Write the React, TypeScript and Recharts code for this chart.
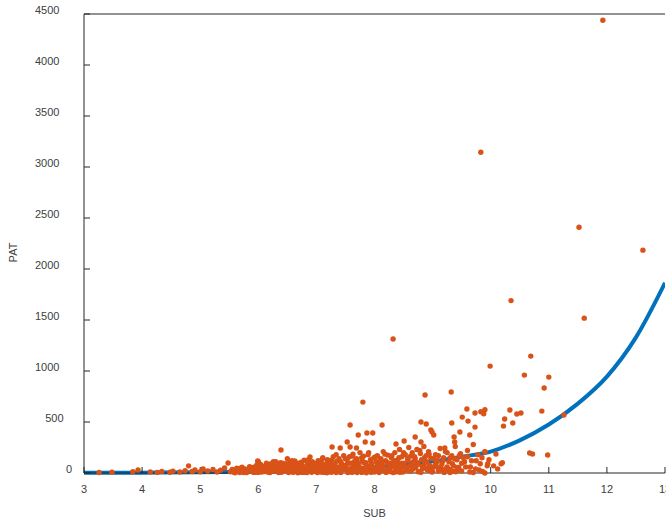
import { ComposedChart, Scatter, Line, XAxis, YAxis } from 'recharts';

const X_TICKS = [3, 4, 5, 6, 7, 8, 9, 10, 11, 12, 13];
const Y_TICKS = [0, 500, 1000, 1500, 2000, 2500, 3000, 3500, 4000, 4500];

// fitted curve
const FIT_X = [3, 4, 5, 6, 7, 8, 9, 9.5, 10, 10.5, 11, 11.5, 12, 12.5, 13];
const FIT_Y = [2, 3, 7, 13, 27, 57, 115, 160, 210, 320, 475, 680, 945, 1330, 1865];

type Pt = [number, number];

// sparse points on the left
const LOW_TAIL: Pt[] = [
  [3.26, 5], [3.48, 8], [3.84, 12], [3.93, 30], [4.14, 10], [4.26, 6], [4.34, 14], [4.48, 8],
  [4.53, 18], [4.65, 10], [4.74, 22], [4.8, 70], [4.86, 15], [4.91, 30], [5.0, 12], [5.05, 40],
  [5.13, 20], [5.22, 35], [5.29, 10], [5.35, 28], [5.42, 50], [5.48, 98], [5.57, 30], [5.68, 45],
  [5.8, 25],
];

// bottom of the dense band
const BAND_BASE: Pt[] = [
  [5.6, 3], [5.7, 12], [5.8, 4], [5.9, 18], [6.0, 6], [6.1, 22], [6.2, 5], [6.3, 28], [6.4, 8],
  [6.5, 32], [6.6, 10], [6.7, 38], [6.8, 6], [6.9, 42], [7.0, 12], [7.1, 45], [7.2, 8], [7.3, 50],
  [7.4, 14], [7.5, 48], [7.6, 10], [7.7, 55], [7.8, 16], [7.9, 60], [8.0, 9], [8.1, 52], [8.2, 18],
  [8.3, 65], [8.4, 12], [8.5, 58], [8.6, 20], [8.7, 62], [8.8, 8], [8.9, 45], [9.0, 15], [9.1, 50],
  [9.2, 6], [9.3, 35], [9.4, 12],
  [5.65, 20], [5.75, 5], [5.85, 30], [5.95, 8], [6.05, 40], [6.15, 12], [6.25, 48], [6.35, 5],
  [6.45, 55], [6.55, 15], [6.65, 62], [6.75, 8], [6.85, 68], [6.95, 18], [7.05, 72], [7.15, 6],
  [7.25, 78], [7.35, 20], [7.45, 82], [7.55, 10], [7.65, 88], [7.75, 25], [7.85, 92], [7.95, 12],
  [8.05, 85], [8.15, 28], [8.25, 95], [8.35, 10], [8.45, 90], [8.55, 30], [8.65, 80], [8.75, 12],
  [8.85, 70], [8.95, 25], [9.05, 85], [9.15, 35], [9.25, 60], [9.35, 18], [9.45, 55],
];

// middle layer of the band
const BAND_MID: Pt[] = [
  [5.9, 55], [5.94, 20], [5.98, 80], [6.02, 35], [6.06, 60], [6.1, 15], [6.14, 70], [6.18, 45],
  [6.22, 90], [6.26, 30], [6.3, 110], [6.34, 20], [6.38, 65], [6.42, 95], [6.46, 40], [6.5, 75],
  [6.54, 25], [6.58, 120], [6.62, 55], [6.66, 85], [6.7, 20], [6.74, 105], [6.78, 60], [6.82, 35],
  [6.86, 130], [6.9, 90], [6.94, 45], [6.98, 70], [7.02, 100], [7.06, 25], [7.1, 135], [7.14, 60],
  [7.18, 95], [7.22, 40], [7.26, 125], [7.3, 75], [7.34, 180], [7.38, 30], [7.42, 110], [7.46, 65],
  [7.5, 140], [7.54, 95], [7.58, 40], [7.62, 165], [7.66, 75], [7.7, 120], [7.74, 30], [7.78, 150],
  [7.82, 100], [7.86, 60], [7.9, 200], [7.94, 110], [7.98, 45], [8.02, 160], [8.06, 90], [8.1, 130],
  [8.14, 55], [8.18, 185], [8.22, 100], [8.26, 40], [8.3, 170], [8.34, 120], [8.38, 75], [8.42, 150],
  [8.46, 95], [8.5, 200], [8.54, 60], [8.58, 120], [8.62, 165], [8.66, 40], [8.7, 140], [8.74, 100],
  [8.78, 220], [8.82, 65], [8.86, 150], [8.9, 110], [8.94, 185], [8.98, 50], [9.02, 140], [9.06, 95],
  [9.1, 170], [9.14, 60], [9.18, 120], [9.22, 210], [9.26, 30], [9.3, 150], [9.34, 90], [9.38, 140],
  [9.42, 55], [9.46, 170], [9.5, 20], [9.55, 110], [9.6, 160], [9.65, 60], [9.7, 5], [9.75, 120],
  [9.8, 30], [9.85, 150], [9.9, 0], [9.95, 90],
];

// main band
const BAND: Pt[] = [
  [5.52, 12], [5.55, 35], [5.58, 8], [5.6, 22], [5.63, 48], [5.66, 15], [5.68, 5], [5.7, 30],
  [5.72, 58], [5.75, 18], [5.77, 40], [5.8, 10], [5.82, 28], [5.85, 62], [5.87, 20], [5.9, 45],
  [5.92, 6], [5.94, 33], [5.96, 70], [5.98, 15],
  [6.0, 25], [6.02, 50], [6.04, 85], [6.06, 10], [6.08, 38], [6.1, 65], [6.12, 20], [6.14, 95],
  [6.16, 45], [6.18, 8], [6.2, 72], [6.22, 30], [6.24, 55], [6.26, 110], [6.28, 18], [6.3, 80],
  [6.32, 40], [6.34, 62], [6.36, 12], [6.38, 100], [6.4, 35], [6.42, 75], [6.44, 52], [6.46, 22],
  [6.48, 90], [6.5, 140],
  [6.51, 28], [6.53, 60], [6.55, 105], [6.57, 15], [6.59, 80], [6.61, 42], [6.63, 118], [6.65, 25],
  [6.67, 70], [6.69, 95], [6.71, 10], [6.73, 50], [6.75, 85], [6.77, 35], [6.79, 125], [6.81, 60],
  [6.83, 20], [6.85, 100], [6.87, 45], [6.89, 75], [6.91, 15], [6.93, 110], [6.95, 55], [6.97, 30],
  [6.99, 90], [6.52, 5], [6.6, 8], [6.68, 3], [6.76, 6], [6.84, 4], [6.92, 7],
  [7.01, 40], [7.03, 120], [7.05, 65], [7.07, 12], [7.09, 95], [7.11, 150], [7.13, 30], [7.15, 80],
  [7.17, 55], [7.19, 130], [7.21, 18], [7.23, 100], [7.25, 70], [7.27, 40], [7.29, 160], [7.31, 85],
  [7.33, 25], [7.35, 115], [7.37, 60], [7.39, 140], [7.41, 10], [7.43, 90], [7.45, 50], [7.47, 170],
  [7.49, 35], [7.02, 5], [7.1, 8], [7.18, 3], [7.26, 7], [7.34, 4], [7.42, 6],
  [7.51, 75], [7.53, 130], [7.55, 20], [7.57, 160], [7.59, 95], [7.61, 45], [7.63, 185], [7.65, 110],
  [7.67, 60], [7.69, 140], [7.71, 25], [7.73, 90], [7.75, 200], [7.77, 50], [7.79, 120], [7.81, 165],
  [7.83, 35], [7.85, 100], [7.87, 70], [7.89, 180], [7.91, 15], [7.93, 130], [7.95, 85], [7.97, 55],
  [7.99, 150], [7.54, 5], [7.62, 8], [7.7, 4], [7.78, 6], [7.86, 3], [7.94, 7],
  [8.01, 40], [8.03, 110], [8.05, 170], [8.07, 65], [8.09, 20], [8.11, 140], [8.13, 90], [8.15, 210],
  [8.17, 50], [8.19, 120], [8.21, 30], [8.23, 175], [8.25, 80], [8.27, 15], [8.29, 150], [8.31, 100],
  [8.33, 60], [8.35, 200], [8.37, 35], [8.39, 125], [8.41, 85], [8.43, 230], [8.45, 55], [8.47, 160],
  [8.49, 10], [8.08, 5], [8.2, 6], [8.32, 4], [8.44, 8],
  [8.51, 95], [8.53, 180], [8.55, 40], [8.57, 140], [8.59, 250], [8.61, 70], [8.63, 20], [8.65, 200],
  [8.67, 110], [8.69, 160], [8.71, 55], [8.73, 230], [8.75, 85], [8.77, 15], [8.79, 190], [8.81, 130],
  [8.83, 45], [8.85, 260], [8.87, 100], [8.89, 170], [8.91, 30], [8.93, 210], [8.95, 75], [8.97, 145],
  [8.99, 10],
  [9.02, 60], [9.05, 180], [9.08, 120], [9.1, 20], [9.13, 240], [9.16, 90], [9.19, 150], [9.22, 40],
  [9.25, 200], [9.28, 110], [9.3, 5], [9.33, 170], [9.36, 70], [9.39, 260], [9.42, 130], [9.45, 30],
  [9.48, 190], [9.5, 95],
  [9.53, 150], [9.57, 60], [9.6, 220], [9.64, 10], [9.67, 120], [9.7, 280], [9.74, 40], [9.78, 180],
  [9.82, 90], [9.86, 15], [9.9, 210], [9.94, 70], [9.97, 130],
];

// points well above the band
const SPREAD: Pt[] = [
  [11.93, 4438], [9.83, 3145], [11.52, 2410], [12.62, 2185], [10.35, 1690], [11.61, 1518],
  [8.32, 1313], [10.69, 1146], [9.99, 1048], [10.58, 960], [11.0, 940], [10.92, 833], [9.32, 794],
  [8.87, 764], [7.8, 695], [10.88, 607], [10.52, 588], [10.33, 617], [9.59, 627], [9.73, 588],
  [9.83, 600], [9.9, 620], [9.88, 580], [10.24, 529], [10.22, 460], [10.38, 490], [11.26, 568],
  [9.51, 548], [9.61, 509], [8.8, 500], [8.89, 480], [9.33, 490], [7.58, 470], [8.13, 470],
  [8.97, 421], [8.99, 402], [9.02, 372], [9.37, 353], [9.64, 372], [9.73, 450], [9.47, 402],
  [7.72, 372], [7.87, 392], [7.97, 392], [7.84, 304], [7.97, 294], [7.53, 304], [7.27, 255],
  [7.41, 245], [7.58, 255], [7.69, 245], [6.39, 225], [8.51, 313], [8.7, 353], [8.8, 304],
  [8.37, 284], [9.21, 245], [9.38, 304], [10.67, 196], [10.72, 186], [10.98, 176], [10.09, 186],
  [10.05, 70], [10.12, 40], [10.18, 90], [10.2, 100], [9.9, 206], [6.89, 157], [5.99, 118],
  [6.0, 110], [10.45, 578],
];

const fitData = FIT_X.map((x, i) => ({ x, y: FIT_Y[i] }));
const scatterData = [...LOW_TAIL, ...BAND_BASE, ...BAND_MID, ...BAND, ...SPREAD].map(([x, y]) => ({ x, y }));

const FONT = '"Liberation Sans", Arial, sans-serif';
const TEXT = '#404040';
const AXIS = '#262626';

function YTick({ x, y, payload }: any) {
  const label = String(payload.value);
  const shift = 12 + (label.length - 1) * 4.2;
  return (
    <text x={x - shift} y={y - 4} dy="0.35em" textAnchor="end" fill={TEXT} fontSize={11} fontFamily={FONT}>
      {label}
    </text>
  );
}

export default function App() {
  return (
    <div style={{ position: 'absolute', left: 0, top: 0, width: 666, height: 523, overflow: 'hidden', background: '#fff' }}>
      <ComposedChart width={680} height={523} margin={{ top: 0, right: 15, bottom: 0, left: 24 }}>
        <XAxis
          xAxisId="main"
          dataKey="x"
          type="number"
          domain={[3, 13]}
          ticks={X_TICKS}
          allowDataOverflow
          height={50}
          tickSize={-6}
          tickMargin={18}
          stroke={AXIS}
          tick={{ fill: TEXT, fontSize: 11, fontFamily: FONT }}
          label={{ value: 'SUB', position: 'insideBottom', offset: 6, fill: TEXT, fontSize: 11, fontFamily: FONT }}
        />
        <XAxis
          xAxisId="top"
          orientation="top"
          dataKey="x"
          type="number"
          domain={[3, 13]}
          ticks={X_TICKS}
          height={14}
          tickSize={-6}
          tick={false}
          stroke={AXIS}
        />
        <YAxis
          dataKey="y"
          type="number"
          domain={[0, 4500]}
          ticks={Y_TICKS}
          width={60}
          tickSize={-6}
          tickMargin={6}
          stroke={AXIS}
          tick={<YTick />}
          label={{
            value: 'PAT',
            angle: -90,
            position: 'insideLeft',
            offset: -11,
            dy: 9,
            fill: TEXT,
            fontSize: 11,
            fontFamily: FONT,
            style: { textAnchor: 'middle' },
          }}
        />
        <Line
          xAxisId="main"
          data={fitData}
          dataKey="y"
          type="monotone"
          stroke="#0072BD"
          strokeWidth={4}
          dot={false}
          activeDot={false}
          isAnimationActive={false}
        />
        <Scatter
          xAxisId="main"
          data={scatterData}
          fill="#D95319"
          isAnimationActive={false}
          shape={(p: any) => <circle cx={p.cx} cy={p.cy} r={2.7} fill="#D95319" />}
        />
      </ComposedChart>
    </div>
  );
}
